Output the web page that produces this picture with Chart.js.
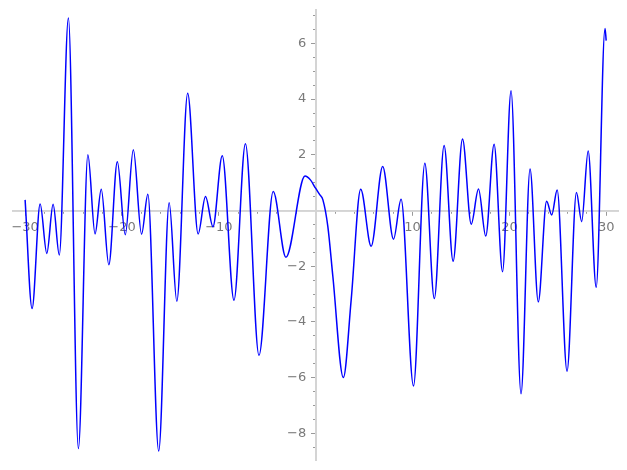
<!DOCTYPE html>
<html>
<head>
<meta charset="utf-8">
<script src="https://cdn.jsdelivr.net/npm/chart.js@4.4.1/dist/chart.umd.min.js"></script>
<style>
    html, body { margin: 0; padding: 0; background: #fff; }
    canvas { display: block; }
</style>
</head>
<body>
<canvas id="plot" width="627" height="470"></canvas>
<script>
// curve: local extrema plus a few shoulder points
const xs = [
    -30.0, -29.28, -28.45, -27.76, -27.11, -26.47, -25.53, -24.50, -23.52, -22.78,
    -22.14, -21.36, -20.48, -19.66, -18.83, -17.98, -17.33, -16.21, -15.13, -14.34,
    -13.22, -12.14, -11.38, -10.61, -9.65, -8.44, -7.26, -5.86, -4.39, -3.08,
    -1.11, -0.55, -0.02, 0.43, 0.74, 1.25, 1.77, 2.85, 3.66, 4.64,
    5.72, 6.91, 8.03, 8.81, 10.09, 11.26, 12.24, 13.25, 14.18, 15.15,
    16.05, 16.80, 17.55, 18.41, 19.28, 20.16, 21.19, 22.12, 22.97, 23.83,
    24.36, 24.92, 25.94, 26.91, 27.45, 28.12, 28.95, 29.86, 29.98
];
const ys = [
    0.38, -3.52, 0.23, -1.54, 0.22, -1.60, 6.91, -8.55, 2.00, -0.84,
    0.76, -1.95, 1.75, -0.87, 2.18, -0.85, 0.58, -8.64, 0.28, -3.26,
    4.21, -0.84, 0.50, -0.58, 1.97, -3.22, 2.40, -5.20, 0.68, -1.68,
    1.24, 1.10, 0.80, 0.56, 0.38, -0.58, -2.38, -6.00, -3.20, 0.76,
    -1.28, 1.58, -1.03, 0.40, -6.30, 1.70, -3.16, 2.33, -1.82, 2.57,
    -0.49, 0.77, -0.92, 2.38, -2.20, 4.30, -6.58, 1.49, -3.28, 0.33,
    -0.16, 0.74, -5.77, 0.65, -0.40, 2.14, -2.76, 6.54, 6.10
];

const xMajor = [-30, -20, -10, 10, 20, 30];
const xLabels = ["\u221230", "\u221220", "\u221210", "10", "20", "30"];
const xMinor = [-28, -26, -24, -22, -18, -16, -14, -12, -8, -6, -4, -2, 2, 4, 6, 8, 12, 14, 16, 18, 22, 24, 26, 28];

const yMajor = [-8, -6, -4, -2, 2, 4, 6];
const yLabels = ["\u22128", "\u22126", "\u22124", "\u22122", "2", "4", "6"];
const yMinor = [-8.5, -7.5, -7, -6.5, -5.5, -5, -4.5, -3.5, -3, -2.5, -1.5, -1, -0.5, 0, 0.5, 1, 1.5, 2.5, 3, 3.5, 4.5, 5, 5.5, 6.5, 7];

const xRange = [-31.25, 31.2];
const yRange = [-8.96, 7.2];

const axisGrey = "#d4d4d4";
const tickGrey = "#9a9a9a";
const labelGrey = "#7a7a7a";

// a y axis crossing at x=0 ignores ticks.padding, so push its labels left here
class CrossScale extends Chart.LinearScale {
    _computeLabelItems(chartArea) {
        const items = super._computeLabelItems(chartArea);
        if (this.axis === "y") {
            const shift = this.options.grid.tickLength + this.options.ticks.padding;
            items.forEach((item) => { item.options.translation[0] -= shift; });
        }
        return items;
    }
}
CrossScale.id = "cross";
CrossScale.defaults = Chart.LinearScale.defaults;
Chart.register(CrossScale);

function noPadding(scale) {
    scale.paddingTop = 0;
    scale.paddingBottom = 0;
    scale.paddingLeft = 0;
    scale.paddingRight = 0;
}

function axisScale(axis, range, values, labels, tickLength, crossAt) {
    return {
        type: "cross",
        axis: axis,
        min: range[0],
        max: range[1],
        position: crossAt,
        afterBuildTicks: (scale) => {
            scale.ticks = values.map((v) => ({ value: v }));
        },
        afterFit: noPadding,
        ticks: {
            display: labels !== null,
            autoSkip: false,
            maxRotation: 0,
            padding: axis === "x" ? 5 : 5.5,
            color: labelGrey,
            font: { family: "DejaVu Sans", size: 13 },
            callback: (value) => {
                if (!labels) return "";
                const i = values.indexOf(value);
                return i >= 0 ? labels[i] : "";
            }
        },
        grid: {
            drawOnChartArea: false,
            drawTicks: true,
            tickLength: tickLength,
            tickColor: tickGrey,
            tickWidth: 1
        },
        border: { display: true, color: axisGrey, width: 1.8 }
    };
}

const points = xs.map((x, i) => ({ x: x, y: ys[i] }));

new Chart(document.getElementById("plot"), {
    type: "line",
    data: {
        datasets: [{
            data: points,
            borderColor: "#0000ff",
            borderWidth: 1.5,
            pointRadius: 0,
            fill: false,
            cubicInterpolationMode: "monotone"
        }]
    },
    options: {
        responsive: false,
        animation: false,
        devicePixelRatio: 1,
        layout: {
            padding: { left: 13, right: 9, top: 10, bottom: 10 }
        },
        plugins: {
            legend: { display: false },
            tooltip: { enabled: false }
        },
        scales: {
            xMinorAxis: axisScale("x", xRange, xMinor, null, 2, { y: 0 }),
            yMinorAxis: axisScale("y", yRange, yMinor, null, 2, { x: 0 }),
            x: axisScale("x", xRange, xMajor, xLabels, 4, { y: 0 }),
            y: axisScale("y", yRange, yMajor, yLabels, 4, { x: 0 })
        }
    }
});
</script>
</body>
</html>
